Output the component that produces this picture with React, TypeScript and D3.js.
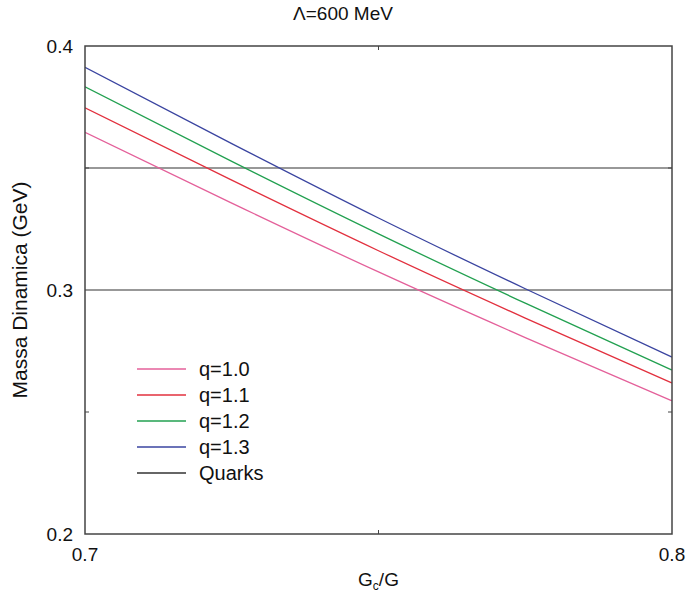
import React from "react";
import * as d3 from "d3";

const gcValues = [0.7, 0.725, 0.75, 0.775, 0.8];
const q10 = [0.3646, 0.3356, 0.3074, 0.2805, 0.2546];
const q11 = [0.3747, 0.345, 0.3161, 0.2885, 0.2619];
const q12 = [0.3833, 0.3527, 0.323, 0.2946, 0.2672];
const q13 = [0.3913, 0.36, 0.3295, 0.3005, 0.2725];
const quarkMasses = [0.35, 0.3];
const seriesNames = ["q=1.0", "q=1.1", "q=1.2", "q=1.3", "Quarks"];
const seriesColors = ["#e4609a", "#e2303e", "#22a050", "#3a44a0", "#333333"];
const xTicks = [0.7, 0.8];
const yTicks = [0.2, 0.3, 0.4];
const xMinor = [0.75];
const yMinor = [0.25, 0.35];

const W = 689;
const H = 594;
const M = { left: 85, right: 17, top: 46, bottom: 60 };

export default function App() {
  const x = d3.scaleLinear().domain([0.7, 0.8]).range([M.left, W - M.right]);
  const y = d3.scaleLinear().domain([0.2, 0.4]).range([H - M.bottom, M.top]);
  const series = [q10, q11, q12, q13];
  const line = d3
    .line<number>()
    .x((_, i) => x(gcValues[i]))
    .y((d) => y(d))
    .curve(d3.curveMonotoneX);
  const font = "Liberation Sans, Arial, Helvetica, sans-serif";
  const x0 = x(0.7), x1 = x(0.8), y0 = y(0.2), y1 = y(0.4);
  const legX = 137, legY = 369, legDy = 26;
  return (
    <svg width={W} height={H} style={{ position: "absolute", left: 0, top: 0 }} fontFamily={font}>
      <rect width={W} height={H} fill="#fff" />
      <defs>
        <clipPath id="plot">
          <rect x={x0} y={y1} width={x1 - x0} height={y0 - y1} />
        </clipPath>
      </defs>
      {quarkMasses.map((m) => (
        <line key={m} x1={x0} x2={x1} y1={y(m)} y2={y(m)} stroke={seriesColors[4]} strokeWidth={1.2} />
      ))}
      <g clipPath="url(#plot)">
        {series.map((s, i) => (
          <path key={i} d={line(s) || ""} fill="none" stroke={seriesColors[i]} strokeWidth={1.3} />
        ))}
      </g>
      <rect x={x0} y={y1} width={x1 - x0} height={y0 - y1} fill="none" stroke="#444" strokeWidth={1.5} />
      {xMinor.map((v) => (
        <g key={v}>
          <line x1={x(v)} x2={x(v)} y1={y1} y2={y1 + 4} stroke="#444" />
          <line x1={x(v)} x2={x(v)} y1={y0} y2={y0 - 4} stroke="#444" />
        </g>
      ))}
      {yMinor.map((v) => (
        <g key={v}>
          <line x1={x0} x2={x0 + 4} y1={y(v)} y2={y(v)} stroke="#444" />
          <line x1={x1} x2={x1 - 4} y1={y(v)} y2={y(v)} stroke="#444" />
        </g>
      ))}
      {yTicks.map((v) => (
        <text key={v} x={x0 - 12} y={y(v)} dy="0.35em" textAnchor="end" fontSize={19} fill="#111">
          {d3.format(".1f")(v)}
        </text>
      ))}
      {xTicks.map((v) => (
        <text key={v} x={x(v)} y={y0 + 20} dy="0.35em" textAnchor="middle" fontSize={19} fill="#111">
          {d3.format(".1f")(v)}
        </text>
      ))}
      <text x={343} y={20} textAnchor="middle" fontSize={19} fill="#111">
        Λ=600 MeV
      </text>
      <text x={(x0 + x1) / 2} y={586} textAnchor="middle" fontSize={19} fill="#111">
        G<tspan fontSize={12} dy={4}>c</tspan>
        <tspan dy={-4}>/G</tspan>
      </text>
      <text
        transform={`translate(27,${(y0 + y1) / 2}) rotate(-90)`}
        textAnchor="middle"
        fontSize={21}
        fill="#111"
      >
        Massa Dinamica (GeV)
      </text>
      {seriesNames.map((n, i) => (
        <g key={n}>
          <line x1={legX} x2={legX + 49} y1={legY + i * legDy} y2={legY + i * legDy} stroke={seriesColors[i]} strokeWidth={1.3} />
          <text x={legX + 62} y={legY + i * legDy} dy="0.35em" fontSize={20} fill="#111">
            {n}
          </text>
        </g>
      ))}
    </svg>
  );
}
